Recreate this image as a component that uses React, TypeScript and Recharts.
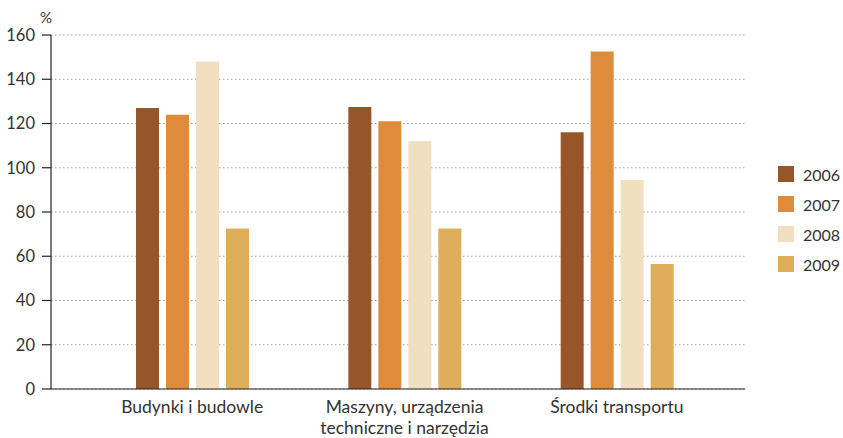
import React from 'react';
import { BarChart, Bar, XAxis, YAxis, CartesianGrid, Legend } from 'recharts';

const categories = ['Budynki i budowle', 'Maszyny, urządzenia\ntechniczne i narzędzia', 'Środki transportu'];
const series2006 = [127, 127.5, 116];
const series2007 = [124, 121, 152.5];
const series2008 = [148, 112, 94.5];
const series2009 = [72.5, 72.5, 56.5];
const seriesNames = ['2006', '2007', '2008', '2009'];
const seriesColors = ['#97562A', '#DE8B3C', '#F1DFBF', '#E0AE5A'];
const yTicks = [0, 20, 40, 60, 80, 100, 120, 140, 160];

const data = categories.map((c, i) => ({
  name: c,
  '2006': series2006[i],
  '2007': series2007[i],
  '2008': series2008[i],
  '2009': series2009[i],
}));

const FONT = 'Lato, "Open Sans", sans-serif';
const TEXT = '#333333';

const XTick = (props: any) => {
  const { x, y, payload } = props;
  const lines = String(payload.value).split('\n');
  return (
    <text x={x} y={y} textAnchor="middle" fill={TEXT} fontFamily={FONT} fontSize={17.5}>
      {lines.map((l: string, i: number) => (
        <tspan key={i} x={x} dy={i === 0 ? 16 : 21}>{l}</tspan>
      ))}
    </text>
  );
};

const LegendContent = (props: any) => {
  const { payload } = props;
  return (
    <div style={{ fontFamily: FONT, fontSize: 16, color: TEXT }}>
      {payload.map((p: any, i: number) => (
        <div key={i} style={{ display: 'flex', alignItems: 'center', height: 30 }}>
          <span style={{ display: 'inline-block', width: 16, height: 16, background: p.color, marginRight: 9 }} />
          <span>{p.value}</span>
        </div>
      ))}
    </div>
  );
};

export default function App() {
  return (
    <div style={{ position: 'absolute', left: 0, top: 0, background: '#fff' }}>
      <BarChart
        width={843}
        height={438}
        data={data}
        margin={{ top: 35, right: 98, bottom: 19, left: 0 }}
        barSize={23}
        barGap={7}
      >
        <CartesianGrid vertical={false} stroke="#a0a0a0" strokeDasharray="1.5 2.5" />
        <XAxis
          dataKey="name"
          interval={0}
          tickLine={false}
          axisLine={{ stroke: '#222', strokeWidth: 1.2 }}
          padding={{ left: 35, right: 22 }}
          tick={<XTick />}
        />
        <YAxis
          width={51}
          domain={[0, 160]}
          ticks={yTicks}
          interval={0}
          tickSize={9}
          tickMargin={7}
          axisLine={{ stroke: '#222', strokeWidth: 1.2 }}
          tickLine={{ stroke: '#222', strokeWidth: 1.2 }}
          tick={{ fill: TEXT, fontFamily: FONT, fontSize: 16.5 }}
          label={{
            content: (p: any) => (
              <text x={p.viewBox.x + p.viewBox.width - 5} y={p.viewBox.y - 12} textAnchor="middle" fill={TEXT} fontFamily={FONT} fontSize={15}>%</text>
            ),
          }}
        />
        <Legend
          layout="horizontal"
          align="center"
          verticalAlign="middle"
          content={<LegendContent />}
          wrapperStyle={{ position: 'absolute', left: 778, top: 159, width: 70 }}
        />
        {seriesNames.map((s, i) => (
          <Bar key={s} dataKey={s} name={s} fill={seriesColors[i]} isAnimationActive={false} />
        ))}
      </BarChart>
    </div>
  );
}
